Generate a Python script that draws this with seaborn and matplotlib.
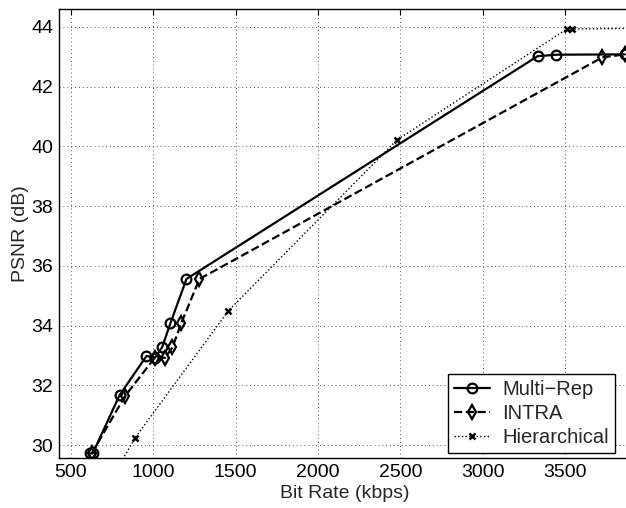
import matplotlib
matplotlib.use("Agg")
import matplotlib.pyplot as plt
import pandas as pd
import seaborn as sns

# Rate-distortion curves (bit rate in kbps, PSNR in dB)
multi_rep_rate = [618, 632, 795, 958, 1010, 1053, 1103, 1201, 3333, 3447, 3862]
multi_rep_psnr = [29.72, 29.72, 31.67, 32.98, 32.93, 33.27, 34.07, 35.56, 43.02, 43.07, 43.08]

intra_rate = [626, 828, 1010, 1071, 1116, 1170, 1280, 3726, 3862]
intra_psnr = [29.72, 31.64, 32.93, 32.92, 33.27, 34.09, 35.56, 42.98, 43.08]

hier_rate = [780, 889, 1456, 2480, 3511, 3541, 3900]
hier_psnr = [29.2, 30.24, 34.5, 40.22, 43.93, 43.93, 43.95]

series_names = ["Multi\u2212Rep", "INTRA", "Hierarchical"]
x_ticks = [500, 1000, 1500, 2000, 2500, 3000, 3500]
y_ticks = [30, 32, 34, 36, 38, 40, 42, 44]

sns.set_style("white")
plt.rcParams["font.family"] = ["Liberation Sans", "DejaVu Sans"]
plt.rcParams["font.size"] = 14

W, H = 626, 508
fig = plt.figure(figsize=(W / 100, H / 100), dpi=100)
ax = fig.add_axes([59 / W, 50 / H, (631 - 59) / W, (458 - 9) / H])

styles = [
    dict(linestyle="-", marker="o", markersize=7, linewidth=1.6, markeredgewidth=1.6),
    dict(linestyle="--", marker="d", markersize=7, linewidth=1.6, markeredgewidth=1.6,
         dashes=(4, 2.2)),
    dict(linestyle=":", marker="x", markersize=5, linewidth=1.0, markeredgewidth=1.8),
]
data = [(multi_rep_rate, multi_rep_psnr), (intra_rate, intra_psnr), (hier_rate, hier_psnr)]

for name, (rate, psnr), st in zip(series_names, data, styles):
    df = pd.DataFrame({"rate": rate, "psnr": psnr})
    sns.lineplot(data=df, x="rate", y="psnr", ax=ax, sort=False, color="black",
                 markerfacecolor="none", markeredgecolor="black", label=name,
                 estimator=None, **st)

ax.set_xlim(427, 3900)
ax.set_ylim(29.565, 44.6)
ax.set_xticks(x_ticks)
ax.set_yticks(y_ticks)
ax.set_xlabel("Bit Rate (kbps)", fontsize=14, labelpad=3)
ax.set_ylabel("PSNR (dB)", fontsize=14, labelpad=2)

ax.grid(True, linestyle=(0, (1, 3)), color="#555555", linewidth=0.7)
ax.tick_params(direction="in", length=4, width=0.8, top=True, right=False,
               labelsize=14, pad=4, colors="black")
for side in ["left", "bottom", "top"]:
    ax.spines[side].set_color("black")
    ax.spines[side].set_linewidth(1.0)
ax.spines["right"].set_visible(False)

leg = ax.legend(loc="lower right", bbox_to_anchor=(615 / W, 55 / H),
                bbox_transform=fig.transFigure, borderaxespad=0, fontsize=14.5,
                handlelength=1.8, handletextpad=0.6, borderpad=0.3,
                labelspacing=0.25, fancybox=False, framealpha=1)
leg.get_frame().set_edgecolor("black")
leg.get_frame().set_linewidth(1.0)

fig.savefig("out.png", dpi=100)
